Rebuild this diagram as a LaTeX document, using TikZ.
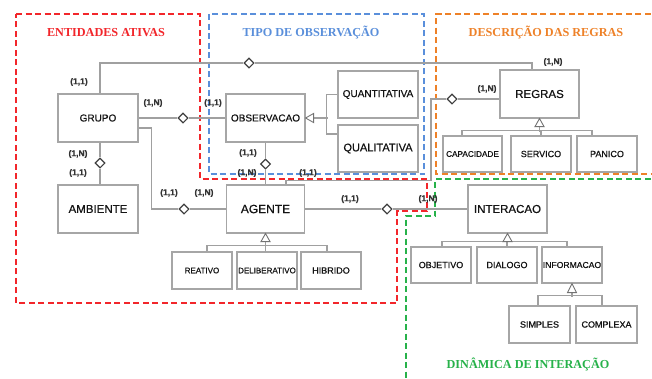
\documentclass[tikz,border=0pt]{standalone}
\usepackage{fontspec}
\setmainfont{Liberation Serif}
\newfontfamily\arialf[FakeBold=0.6]{Liberation Sans}
\usetikzlibrary{shapes.geometric,calc}
\definecolor{boxgray}{HTML}{A6A6A6}
\definecolor{linegray}{HTML}{A0A0A0}
\definecolor{txt}{HTML}{141414}
\definecolor{dred}{HTML}{F2262B}
\definecolor{dblue}{HTML}{5A8FDB}
\definecolor{dorange}{HTML}{EE8128}
\definecolor{dgreen}{HTML}{27B24A}
\begin{document}
\begin{tikzpicture}[x=1pt,y=-1pt,
 ent/.style={draw=boxgray,line width=1.1pt,fill=white,text=txt,inner sep=0pt},
 fs/.style={font=\arialf\fontsize{#1}{#1}\selectfont},
 conn/.style={draw=linegray,line width=1.1pt},
 rel/.style={diamond,draw=black!75,line width=1.1pt,fill=white,inner sep=0pt,minimum width=10pt,minimum height=10pt},
 card/.style={font=\arialf\bfseries\fontsize{8.5}{8.5}\selectfont,text=black!80,inner sep=0pt},
 gen/.style={draw=black!55,line width=0.9pt,fill=white},
 region/.style={line width=1.8pt,dash pattern=on 6pt off 3.5pt},
 ttl/.style={font=\bfseries\fontsize{12.2}{12.2}\selectfont,inner sep=0pt}]
\useasboundingbox[fill=white] (0,0) rectangle (652,378);

% region frames
\draw[region,dred] (16,14) -- (200,14) -- (200,179) -- (427,179) -- (427,211) -- (397,211) -- (397,303) -- (16,303) -- cycle;
\draw[region,dblue] (209,14) rectangle (424,174);
\draw[region,dorange] (660,14) -- (436,14) -- (436,174) -- (660,174);
\draw[region,dgreen] (660,179) -- (435,179) -- (435,216) -- (406,216) -- (406,385);

% titles
\node[ttl,text=dred] (t-ent) at (106,33) {ENTIDADES ATIVAS};
\node[ttl,text=dblue] (t-obs) at (311,33) {TIPO DE OBSERVAÇÃO};
\node[ttl,text=dorange] (t-reg) at (546,33) {DESCRIÇÃO DAS REGRAS};
\node[ttl,text=dgreen] (t-din) at (528,364) {DINÂMICA DE INTERAÇÃO};

% entities
\node[ent,fs=10,minimum width=80pt,minimum height=48pt] (grupo) at (98,118) {GRUPO};
\node[ent,fs=11.5,minimum width=80pt,minimum height=48pt] (ambiente) at (98,209) {AMBIENTE};
\node[ent,fs=10,minimum width=79pt,minimum height=48pt] (observacao) at (265.5,118) {OBSERVACAO};
\node[ent,fs=10,minimum width=80pt,minimum height=47pt] (quant) at (378,94.5) {QUANTITATIVA};
\node[ent,fs=11,minimum width=80pt,minimum height=47pt] (qual) at (378,148.5) {QUALITATIVA};
\node[ent,fs=11.5,minimum width=79pt,minimum height=48pt] (regras) at (539.5,94) {REGRAS};
\node[ent,fs=8.2,minimum width=59pt,minimum height=36pt] (capac) at (472.5,154) {CAPACIDADE};
\node[ent,fs=9,minimum width=60pt,minimum height=36pt] (servico) at (541,154) {SERVICO};
\node[ent,fs=9,minimum width=60pt,minimum height=36pt] (panico) at (607,154) {PANICO};
\node[ent,fs=12,minimum width=78pt,minimum height=48pt] (agente) at (265.5,209) {AGENTE};
\node[ent,fs=8,minimum width=60pt,minimum height=37pt] (reativo) at (202,270.5) {REATIVO};
\node[ent,fs=8,minimum width=60pt,minimum height=37pt] (delib) at (267,270.5) {DELIBERATIVO};
\node[ent,fs=9,minimum width=60pt,minimum height=37pt] (hibrido) at (331,270.5) {HIBRIDO};
\node[ent,fs=11.5,minimum width=79pt,minimum height=48pt] (interacao) at (507.5,209) {INTERACAO};
\node[ent,fs=9,minimum width=60pt,minimum height=36pt] (objetivo) at (441,265) {OBJETIVO};
\node[ent,fs=9,minimum width=60pt,minimum height=36pt] (dialogo) at (507,265) {DIALOGO};
\node[ent,fs=8.6,minimum width=60pt,minimum height=36pt] (informacao) at (572,265) {INFORMACAO};
\node[ent,fs=9,minimum width=61pt,minimum height=37pt] (simples) at (539.5,324.5) {SIMPLES};
\node[ent,fs=9,minimum width=61pt,minimum height=37pt] (complexa) at (606.5,324.5) {COMPLEXA};

% relationship diamonds
\node[rel] (d1) at (249,63) {};
\node[rel] (d2) at (183,118) {};
\node[rel] (d3) at (100,163) {};
\node[rel] (d4) at (184,209) {};
\node[rel] (d5) at (265.5,164) {};
\node[rel] (d6) at (452,99) {};
\node[rel] (d7) at (387,209) {};
\coordinate (k1) at (431,99);

% relationship connectors
\draw[conn] ([xshift=2pt]grupo.north) |- (d1.west);
\draw[conn] (d1.east) -| ([xshift=-7.5pt]regras.north);
\draw[conn] (grupo.east) -- (d2.west);
\draw[conn] (d2.east) -- (observacao.west);
\draw[conn] ([xshift=2pt]grupo.south) -- (d3.north);
\draw[conn] (d3.south) -- ([xshift=2pt]ambiente.north);
\draw[conn] ([yshift=-10pt]grupo.east) -- ++(13,0) |- (d4.west);
\draw[conn] (d4.east) -- (agente.west);
\draw[conn] (observacao.south) -- (d5.north);
\draw[conn] (d5.south) -- (agente.north);
\draw[conn] ([xshift=20.5pt]agente.north) -- ++(0,-4) -| (k1) -- (d6.west);
\draw[conn] (d6.east) -- ([yshift=-5pt]regras.west);
\draw[conn] (agente.east) -- (d7.west);
\draw[conn] (d7.east) -- (interacao.west);

% cardinalities
\node[card] (c1) at (79,82) {(1,1)};
\node[card] (c2) at (553,62) {(1,N)};
\node[card] (c3) at (153,103) {(1,N)};
\node[card] (c4) at (213,103) {(1,1)};
\node[card] (c5) at (78,154) {(1,N)};
\node[card] (c6) at (78,173) {(1,1)};
\node[card] (c7) at (169,193) {(1,1)};
\node[card] (c8) at (204,193) {(1,N)};
\node[card] (c9) at (248,153) {(1,1)};
\node[card] (c10) at (247,173) {(1,N)};
\node[card] (c11) at (308,173) {(1,1)};
\node[card] (c12) at (487,89) {(1,N)};
\node[card] (c13) at (350,199) {(1,1)};
\node[card] (c14) at (428,199) {(1,N)};

% generalisation: OBSERVACAO
\coordinate (to) at (observacao.east);
\draw[conn] ($(to)+(8,0)$) -- ++(14,0);
\draw[conn] (quant.west) -- ++(-11,0) |- ([yshift=14.5pt]qual.west);
\draw[gen] (to) -- ++(8,-4.5) -- ++(0,9) -- cycle;

% generalisation: REGRAS
\coordinate (tr) at (regras.south);
\draw[conn] ($(tr)+(0,8)$) -- ++(0,5);
\draw[conn] ([xshift=-10.5pt]capac.north) -- ++(0,-5) -| ([xshift=-15pt]panico.north);
\draw[conn] (servico.north) -- ++(0,-5);
\draw[gen] (tr) -- ++(-4.5,8) -- ++(9,0) -- cycle;

% generalisation: AGENTE
\coordinate (ta) at (agente.south);
\draw[conn] ($(ta)+(0,8)$) -- ++(0,5);
\draw[conn] ([xshift=5pt]reativo.north) -- ++(0,-6) -| ([xshift=-4pt]hibrido.north);
\draw[conn] ([xshift=-1.5pt]delib.north) -- ++(0,-6);
\draw[gen] (ta) -- ++(-4.5,8) -- ++(9,0) -- cycle;

% generalisation: INTERACAO
\coordinate (ti) at (interacao.south);
\draw[conn] ([xshift=1pt]objetivo.north) -- ++(0,-5) -| ([xshift=-5pt]informacao.north);
\draw[conn] ($(ti)+(0,8)$) -- ++(0,1);
\draw[conn] (dialogo.north) -- ++(0,-5);
\draw[gen] (ti) -- ++(-4.5,8) -- ++(9,0) -- cycle;

% generalisation: INFORMACAO
\coordinate (tf) at (informacao.south);
\draw[conn] ($(tf)+(0,9)$) -- ++(0,4);
\draw[conn] ([xshift=-1.5pt]simples.north) -- ++(0,-10) -| ([xshift=-4.5pt]complexa.north);
\draw[gen] (tf) -- ++(-4.5,9) -- ++(9,0) -- cycle;
\end{tikzpicture}
\end{document}
